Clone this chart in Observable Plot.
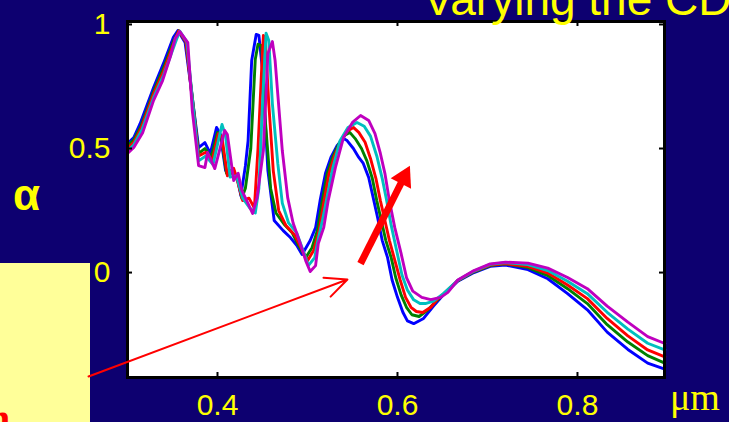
<!DOCTYPE html>
<html>
<head>
<meta charset="utf-8">
<script src="https://cdn.jsdelivr.net/npm/d3@7"></script>
<script src="https://cdn.jsdelivr.net/npm/@observablehq/plot@0.6"></script>
<style>
  html, body { margin: 0; padding: 0; background: #0d0070; }
  #wrap { position: relative; width: 729px; height: 422px; overflow: hidden; background: #0d0070; }
  #box { position: absolute; left: 0; top: 263px; width: 90px; height: 200px; background: #ffff99; }
  #chart { position: absolute; left: 0; top: 0; }
  .lbl { position: absolute; white-space: nowrap; line-height: 1; }
  #title { left: 423px; top: -28px; font: 46px "Liberation Sans", Arial, sans-serif; color: #ffff00; }
  #alpha { left: 13px; top: 170px; font: bold 44px "Liberation Sans", Arial, sans-serif; color: #ffff00; }
  #unit { left: 670px; top: 375px; font: 38px "Liberation Serif", "Times New Roman", serif; color: #ffff00; }
  #redtxt { left: -12px; top: 395px; font: bold 40px "Liberation Serif", "Times New Roman", serif; color: #ff0000; }
</style>
</head>
<body>
<div id="wrap">
  <div id="box"></div>
  <div id="chart"></div>
  <div class="lbl" id="title">Varying the CD</div>
  <div class="lbl" id="alpha">α</div>
  <div class="lbl" id="unit">μm</div>
  <div class="lbl" id="redtxt">n</div>
</div>
<script>
// ---- data (wavelength in µm, alpha) ----
const xTicks = [0.4, 0.6, 0.8];
const yTicks = [0, 0.5, 1];

const blue = [[0.300,0.52],[0.307,0.544],[0.314,0.60],[0.329,0.746],[0.340,0.843],[0.351,0.948],[0.356,0.976],[0.364,0.927],[0.370,0.762],[0.379,0.504],[0.386,0.524],[0.392,0.48],[0.399,0.585],[0.403,0.56],[0.409,0.411],[0.418,0.411],[0.422,0.38],[0.426,0.31],[0.431,0.43],[0.434,0.532],[0.438,0.855],[0.443,0.96],[0.446,0.956],[0.450,0.815],[0.456,0.411],[0.463,0.21],[0.473,0.169],[0.481,0.141],[0.488,0.11],[0.494,0.073],[0.503,0.129],[0.509,0.181],[0.514,0.29],[0.520,0.40],[0.526,0.464],[0.533,0.512],[0.540,0.54],[0.544,0.532],[0.551,0.50],[0.557,0.464],[0.562,0.44],[0.568,0.383],[0.573,0.302],[0.578,0.22],[0.583,0.13],[0.589,0.06],[0.594,-0.03],[0.600,-0.10],[0.606,-0.16],[0.611,-0.195],[0.618,-0.206],[0.629,-0.185],[0.640,-0.135],[0.651,-0.09],[0.667,-0.035],[0.685,0.0],[0.703,0.025],[0.720,0.03],[0.745,0.012],[0.767,-0.025],[0.789,-0.085],[0.811,-0.150],[0.833,-0.240],[0.856,-0.310],[0.878,-0.365],[0.897,-0.389]];

const green = [[0.300,0.51],[0.307,0.535],[0.315,0.59],[0.329,0.73],[0.340,0.825],[0.352,0.94],[0.357,0.975],[0.365,0.93],[0.371,0.74],[0.379,0.48],[0.386,0.50],[0.393,0.465],[0.400,0.565],[0.404,0.55],[0.410,0.40],[0.419,0.40],[0.423,0.37],[0.427,0.30],[0.431,0.34],[0.437,0.50],[0.442,0.86],[0.445,0.92],[0.449,0.915],[0.453,0.62],[0.459,0.34],[0.465,0.24],[0.474,0.195],[0.483,0.16],[0.490,0.11],[0.498,0.06],[0.505,0.10],[0.511,0.17],[0.516,0.28],[0.522,0.40],[0.528,0.465],[0.535,0.52],[0.542,0.555],[0.547,0.565],[0.553,0.54],[0.560,0.50],[0.566,0.45],[0.572,0.38],[0.577,0.29],[0.582,0.21],[0.587,0.13],[0.593,0.06],[0.598,-0.02],[0.604,-0.09],[0.610,-0.14],[0.616,-0.17],[0.624,-0.177],[0.634,-0.15],[0.643,-0.115],[0.651,-0.088],[0.667,-0.033],[0.685,0.003],[0.703,0.028],[0.720,0.035],[0.745,0.02],[0.767,-0.012],[0.789,-0.065],[0.811,-0.125],[0.833,-0.210],[0.856,-0.280],[0.878,-0.335],[0.897,-0.365]];

const red = [[0.300,0.50],[0.307,0.525],[0.315,0.58],[0.329,0.72],[0.340,0.81],[0.352,0.93],[0.357,0.974],[0.365,0.93],[0.371,0.73],[0.379,0.47],[0.387,0.485],[0.394,0.45],[0.401,0.56],[0.405,0.545],[0.411,0.39],[0.418,0.42],[0.421,0.385],[0.428,0.29],[0.435,0.30],[0.441,0.26],[0.445,0.50],[0.449,0.815],[0.451,0.956],[0.453,0.948],[0.457,0.68],[0.462,0.41],[0.468,0.25],[0.476,0.19],[0.486,0.15],[0.493,0.10],[0.500,0.048],[0.507,0.09],[0.513,0.17],[0.518,0.28],[0.524,0.40],[0.530,0.47],[0.537,0.53],[0.544,0.57],[0.551,0.585],[0.557,0.565],[0.564,0.525],[0.570,0.46],[0.576,0.38],[0.581,0.29],[0.586,0.21],[0.591,0.13],[0.597,0.05],[0.603,-0.03],[0.609,-0.10],[0.615,-0.14],[0.621,-0.157],[0.628,-0.161],[0.637,-0.14],[0.645,-0.105],[0.651,-0.087],[0.667,-0.032],[0.685,0.005],[0.703,0.03],[0.720,0.036],[0.745,0.025],[0.767,-0.002],[0.789,-0.050],[0.811,-0.105],[0.833,-0.185],[0.856,-0.255],[0.878,-0.312],[0.897,-0.340]];

const cyan = [[0.300,0.49],[0.307,0.515],[0.316,0.575],[0.329,0.705],[0.340,0.795],[0.353,0.925],[0.358,0.973],[0.366,0.93],[0.372,0.70],[0.379,0.45],[0.387,0.47],[0.395,0.435],[0.405,0.597],[0.409,0.55],[0.414,0.385],[0.421,0.39],[0.428,0.30],[0.436,0.26],[0.442,0.24],[0.446,0.34],[0.450,0.68],[0.454,0.965],[0.457,0.935],[0.461,0.68],[0.467,0.44],[0.472,0.28],[0.479,0.20],[0.488,0.16],[0.495,0.09],[0.501,0.028],[0.508,0.06],[0.511,0.12],[0.516,0.20],[0.521,0.29],[0.528,0.42],[0.536,0.53],[0.545,0.585],[0.555,0.605],[0.563,0.59],[0.570,0.55],[0.577,0.47],[0.583,0.38],[0.588,0.29],[0.593,0.19],[0.599,0.09],[0.605,-0.01],[0.611,-0.07],[0.618,-0.11],[0.625,-0.125],[0.631,-0.125],[0.640,-0.115],[0.651,-0.085],[0.667,-0.031],[0.685,0.006],[0.703,0.033],[0.720,0.04],[0.745,0.032],[0.767,0.008],[0.789,-0.035],[0.811,-0.085],[0.833,-0.160],[0.856,-0.228],[0.878,-0.285],[0.897,-0.312]];

const magenta = [[0.300,0.48],[0.307,0.504],[0.317,0.565],[0.329,0.694],[0.339,0.774],[0.348,0.875],[0.353,0.944],[0.358,0.972],[0.367,0.927],[0.372,0.653],[0.379,0.431],[0.386,0.423],[0.389,0.484],[0.397,0.419],[0.408,0.573],[0.411,0.556],[0.418,0.371],[0.423,0.40],[0.427,0.331],[0.434,0.278],[0.439,0.238],[0.444,0.302],[0.451,0.492],[0.456,0.883],[0.461,0.931],[0.464,0.855],[0.472,0.492],[0.478,0.302],[0.484,0.20],[0.492,0.117],[0.498,0.048],[0.503,0.004],[0.509,0.028],[0.512,0.117],[0.518,0.181],[0.523,0.29],[0.531,0.423],[0.540,0.544],[0.550,0.605],[0.559,0.633],[0.568,0.613],[0.575,0.56],[0.581,0.48],[0.586,0.40],[0.591,0.29],[0.597,0.181],[0.604,0.077],[0.610,-0.02],[0.617,-0.075],[0.627,-0.10],[0.637,-0.109],[0.648,-0.10],[0.656,-0.08],[0.667,-0.03],[0.685,0.008],[0.703,0.035],[0.720,0.042],[0.745,0.038],[0.767,0.018],[0.789,-0.020],[0.811,-0.065],[0.833,-0.135],[0.856,-0.200],[0.878,-0.258],[0.897,-0.286]];

const seriesNames = ["blue", "green", "red", "cyan", "magenta"];
const seriesColors = ["#0000ff", "#008000", "#ff0000", "#00bfbf", "#bf00bf"];
const seriesData = [blue, green, red, cyan, magenta];

// annotation arrows (data units)
const thinArrow = [{x1: 0.2567, y1: -0.419, x2: 0.5444, y2: -0.028}];
const thickArrow = [{x1: 0.5589, y1: 0.036, x2: 0.6071, y2: 0.383, hx: 0.6071, hy: 0.383}];

const fmt = d3.format("~g");
const plotW = 729 - 127 - 65;
const plotH = 422 - 21 - 45;

const lines = seriesData.map((pts, i) =>
  Plot.line(pts, {x: d => d[0], y: d => d[1], stroke: seriesColors[i], strokeWidth: 2.9})
);

const chart = Plot.plot({
  width: 729,
  height: 422,
  marginLeft: 127,
  marginRight: 65,
  marginTop: 21,
  marginBottom: 45,
  style: {background: "transparent", fontFamily: "'Liberation Sans', Arial, sans-serif"},
  x: {domain: [0.3, 0.8967]},
  y: {domain: [-0.423, 1.012]},
  marks: [
    Plot.frame({fill: "white"}),
    ...lines,
    Plot.tickX(xTicks, {x: d => d, stroke: "black", strokeWidth: 2, insetTop: plotH - 5}),
    Plot.tickX(xTicks, {x: d => d, stroke: "black", strokeWidth: 2, insetBottom: plotH - 5}),
    Plot.tickY(yTicks, {y: d => d, stroke: "black", strokeWidth: 2, insetRight: plotW - 5}),
    Plot.tickY(yTicks, {y: d => d, stroke: "black", strokeWidth: 2, insetLeft: plotW - 5}),
    Plot.frame({stroke: "black", strokeWidth: 3}),
    Plot.axisX({ticks: xTicks, tickSize: 0, tickPadding: 16, fill: "#ffff00", fontSize: 30, label: null, tickFormat: fmt}),
    Plot.axisY({ticks: yTicks, tickSize: 0, tickPadding: 17, fill: "#ffff00", fontSize: 30, label: null, tickFormat: fmt}),
    Plot.arrow(thinArrow, {x1: "x1", y1: "y1", x2: "x2", y2: "y2", stroke: "#ff0000", strokeWidth: 2, headLength: 18, headAngle: 50}),
    Plot.link(thickArrow, {x1: "x1", y1: "y1", x2: "x2", y2: "y2", stroke: "#ff0000", strokeWidth: 7}),
    Plot.dot(thickArrow, {x: "hx", y: "hy", symbol: "triangle", r: 8.5, fill: "#ff0000", stroke: "none", rotate: 27})
  ]
});
document.getElementById("chart").appendChild(chart);
</script>
</body>
</html>
